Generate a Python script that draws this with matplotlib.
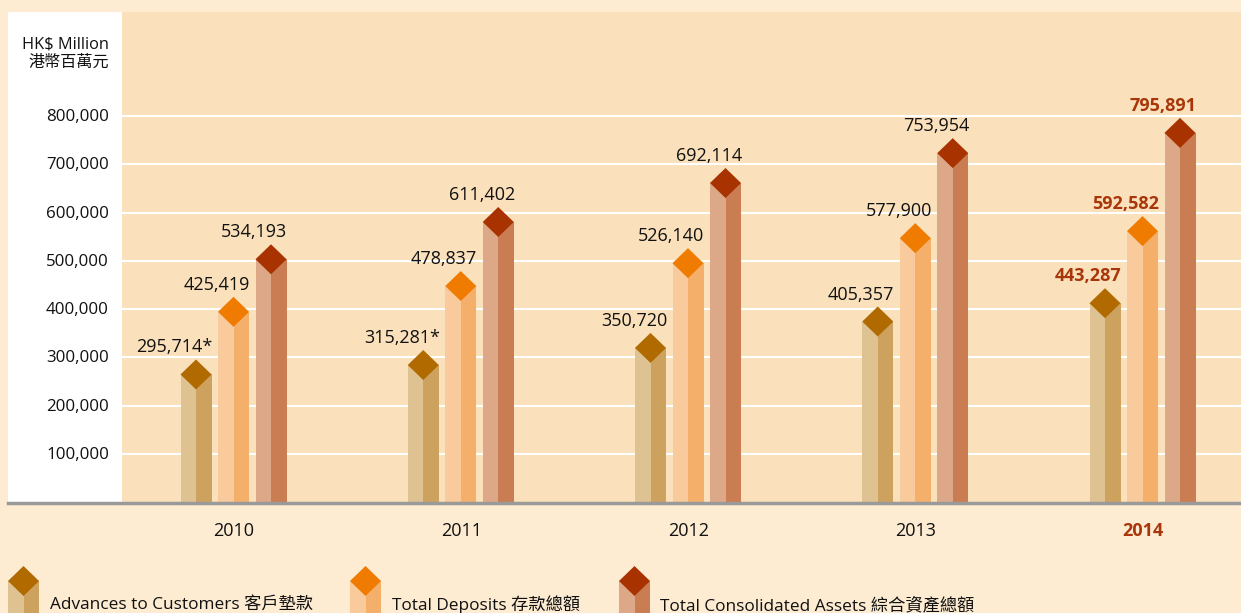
import matplotlib
matplotlib.use("Agg")
import matplotlib.pyplot as plt
from matplotlib.patches import Rectangle, Polygon
from matplotlib.lines import Line2D

# ---------------- data ----------------
years = ["2010", "2011", "2012", "2013", "2014"]
advances = [295714, 315281, 350720, 405357, 443287]
deposits = [425419, 478837, 526140, 577900, 592582]
assets = [534193, 611402, 692114, 753954, 795891]
advance_labels = ["295,714*", "315,281*", "350,720", "405,357", "443,287"]
deposit_labels = ["425,419", "478,837", "526,140", "577,900", "592,582"]
asset_labels = ["534,193", "611,402", "692,114", "753,954", "795,891"]
yticks = [100000, 200000, 300000, 400000, 500000, 600000, 700000, 800000]
ytick_labels = ["100,000", "200,000", "300,000", "400,000", "500,000",
                "600,000", "700,000", "800,000"]
legend_names = ["Advances to Customers 客戶墊款", "Total Deposits 存款總額",
                "Total Consolidated Assets 綜合資產總額"]

# ---------------- style ----------------
W, H = 1241, 613
FAM = ["Open Sans", "Noto Sans CJK TC", "DejaVu Sans"]
plt.rcParams["font.family"] = FAM
outer_bg = "#FDEBD2"
plot_bg = "#FAE1BB"
hl_col = "#A8360A"
txt_col = "#111111"
series_cols = [
    ("#DFC292", "#CDA25E", "#B06A00"),
    ("#F8CA9C", "#F4AF6A", "#EF7B00"),
    ("#DDA888", "#CA7C52", "#A83200"),
]

fig = plt.figure(figsize=(W / 100, H / 100), dpi=100, facecolor=outer_bg)

def fx(px):
    return px / W

def fy(py):
    return 1 - py / H

# white left panel
fig.patches.append(Rectangle((fx(8), fy(502)), fx(122) - fx(8), fy(12) - fy(502),
                             transform=fig.transFigure, facecolor="white",
                             edgecolor="none", zorder=0))

ax_left, ax_right, ax_top, ax_bot = 122, 1241, 12, 502.3
ax = fig.add_axes([fx(ax_left), fy(ax_bot), fx(ax_right) - fx(ax_left), fy(ax_top) - fy(ax_bot)])
ax.set_facecolor(plot_bg)
px_per_unit_x = 227.25
px_per_100k = 48.3
x0 = -(233.5 - ax_left) / px_per_unit_x
ax.set_xlim(x0, x0 + (ax_right - ax_left) / px_per_unit_x)
ax.set_ylim(0, (ax_bot - ax_top) / px_per_100k * 100000)
for s in ax.spines.values():
    s.set_visible(False)
ax.set_xticks([])
ax.set_yticks([])
for t in yticks:
    ax.axhline(t, color="white", lw=1.5, zorder=1)

bw = 31 / px_per_unit_x
off = 37.5 / px_per_unit_x
dh = 15 / px_per_100k * 100000

all_vals = [advances, deposits, assets]
all_labels = [advance_labels, deposit_labels, asset_labels]
for si, (vals, labs) in enumerate(zip(all_vals, all_labels)):
    light, dark, top = series_cols[si]
    for i, v in enumerate(vals):
        xc = i + (si - 1) * off
        xl, xr = xc - bw / 2, xc + bw / 2
        ax.add_patch(Rectangle((xl, 0), bw / 2, v - dh, facecolor=light, edgecolor="none", zorder=2))
        ax.add_patch(Rectangle((xc, 0), bw / 2, v - dh, facecolor=dark, edgecolor="none", zorder=2))
        ax.add_patch(Polygon([(xc, v), (xr, v - dh), (xc, v - 2 * dh), (xl, v - dh)],
                             closed=True, facecolor=top, edgecolor="none", zorder=3))
        hl = (i == len(vals) - 1)
        ax.text(xr + 1 / px_per_unit_x, v + 7 / px_per_100k * 100000, labs[i],
                ha="right", va="baseline", fontsize=13,
                fontweight="bold" if hl else "normal",
                color=hl_col if hl else txt_col, zorder=4)

# year labels
for i, y in enumerate(years):
    hl = (i == len(years) - 1)
    fig.text(fx(234 + i * px_per_unit_x), fy(536), y, ha="center", va="baseline",
             fontsize=13, fontweight="bold" if hl else "normal",
             color=hl_col if hl else txt_col)

# y tick labels
for t, lab in zip(yticks, ytick_labels):
    py = ax_bot - t / 100000 * px_per_100k
    fig.text(fx(109), fy(py + 1), lab, ha="right", va="center", fontsize=12.2, color=txt_col)

fig.text(fx(109), fy(49), "HK$ Million", ha="right", va="baseline", fontsize=11.8, color=txt_col)
fig.text(fx(109), fy(67), "港幣百萬元", ha="right", va="baseline", fontsize=11.6, color=txt_col)

# baseline
fig.lines.append(Line2D([fx(8), fx(1241)], [fy(503), fy(503)], transform=fig.transFigure,
                        color="#9A9A9A", lw=2.5, zorder=5))

# legend
leg_icons = [(8, 39), (350, 381), (619, 650)]
leg_text_x = [50, 392, 660]
for si, ((l, r), tx, name) in enumerate(zip(leg_icons, leg_text_x, legend_names)):
    light, dark, top = series_cols[si]
    c = (l + r) / 2
    ytop, ymid, ybot = 566, 581, 596
    fig.patches.append(Polygon([(fx(l), fy(ymid)), (fx(c), fy(ymid)), (fx(c), fy(613)), (fx(l), fy(613))],
                               closed=True, transform=fig.transFigure, facecolor=light, edgecolor="none"))
    fig.patches.append(Polygon([(fx(c), fy(ymid)), (fx(r), fy(ymid)), (fx(r), fy(613)), (fx(c), fy(613))],
                               closed=True, transform=fig.transFigure, facecolor=dark, edgecolor="none"))
    fig.patches.append(Polygon([(fx(c), fy(ytop)), (fx(r), fy(ymid)), (fx(c), fy(ybot)), (fx(l), fy(ymid))],
                               closed=True, transform=fig.transFigure, facecolor=top, edgecolor="none"))
    fig.text(fx(tx), fy(610), name, ha="left", va="baseline", fontsize=12.4, color=txt_col)

fig.savefig("out.png", dpi=100, facecolor=outer_bg)
